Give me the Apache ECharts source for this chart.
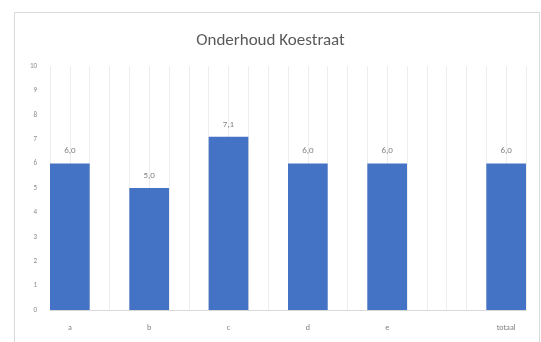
<!DOCTYPE html>
<html>
<head>
<meta charset="utf-8">
<script src="https://cdn.jsdelivr.net/npm/echarts@6/dist/echarts.min.js"></script>
<style>html,body{margin:0;padding:0;background:#fff;}#c{width:541px;height:342px;}</style>
</head>
<body>
<div id="c"></div>
<script>
// Category slots as laid out in the reference (blank slots are gaps)
var categories = ['a', '', 'b', '', 'c', '', 'd', '', 'e', '', '', 'totaal'];
var scores = [6.0, null, 5.0, null, 7.1, null, 6.0, null, 6.0, null, null, 6.0];
var yTicks = [0, 1, 2, 3, 4, 5, 6, 7, 8, 9, 10];
var gridSlots = 24;

var chart = echarts.init(document.getElementById('c'), null, {renderer: 'canvas'});
var fnt = 'Carlito, "Liberation Sans", "Open Sans", sans-serif';
var halfSlots = [];
for (var i = 0; i < gridSlots; i++) halfSlots.push('');

chart.setOption({
  animation: false,
  backgroundColor: '#ffffff',
  title: {
    text: 'Onderhoud Koestraat',
    left: 'center',
    top: 27,
    textStyle: {color: '#595959', fontSize: 17, fontWeight: 'normal', fontFamily: fnt}
  },
  graphic: [{
    type: 'rect',
    shape: {x: 14.5, y: 12.5, width: 525, height: 400},
    style: {fill: 'none', stroke: '#d9d9d9', lineWidth: 1},
    silent: true
  }],
  grid: {left: 50, right: 15, top: 66, bottom: 32},
  xAxis: [{
    type: 'category',
    data: categories,
    axisLine: {show: true, lineStyle: {color: '#d9d9d9'}},
    axisTick: {show: false},
    splitLine: {show: false},
    axisLabel: {color: '#7f7f7f', fontSize: 8, margin: 14, interval: 0, fontFamily: fnt}
  }, {
    type: 'category',
    data: halfSlots,
    position: 'bottom',
    axisLine: {show: false},
    axisTick: {show: false},
    axisLabel: {show: false},
    splitLine: {show: true, interval: 0, lineStyle: {color: '#ededed', width: 1}}
  }],
  yAxis: {
    type: 'value',
    min: yTicks[0],
    max: yTicks[yTicks.length - 1],
    interval: 1,
    axisLine: {show: false},
    axisTick: {show: false},
    splitLine: {show: false},
    axisLabel: {color: '#8a8a8a', fontSize: 7, margin: 13, fontFamily: fnt}
  },
  series: [{
    type: 'bar',
    xAxisIndex: 0,
    data: scores,
    barWidth: '100%',
    itemStyle: {color: '#4472c4'},
    label: {
      show: true,
      position: 'top',
      distance: 8,
      color: '#7f7f7f',
      fontSize: 9,
      fontFamily: fnt,
      formatter: function (p) { return p.value == null ? '' : p.value.toFixed(1).replace('.', ','); }
    }
  }]
});
</script>
</body>
</html>
